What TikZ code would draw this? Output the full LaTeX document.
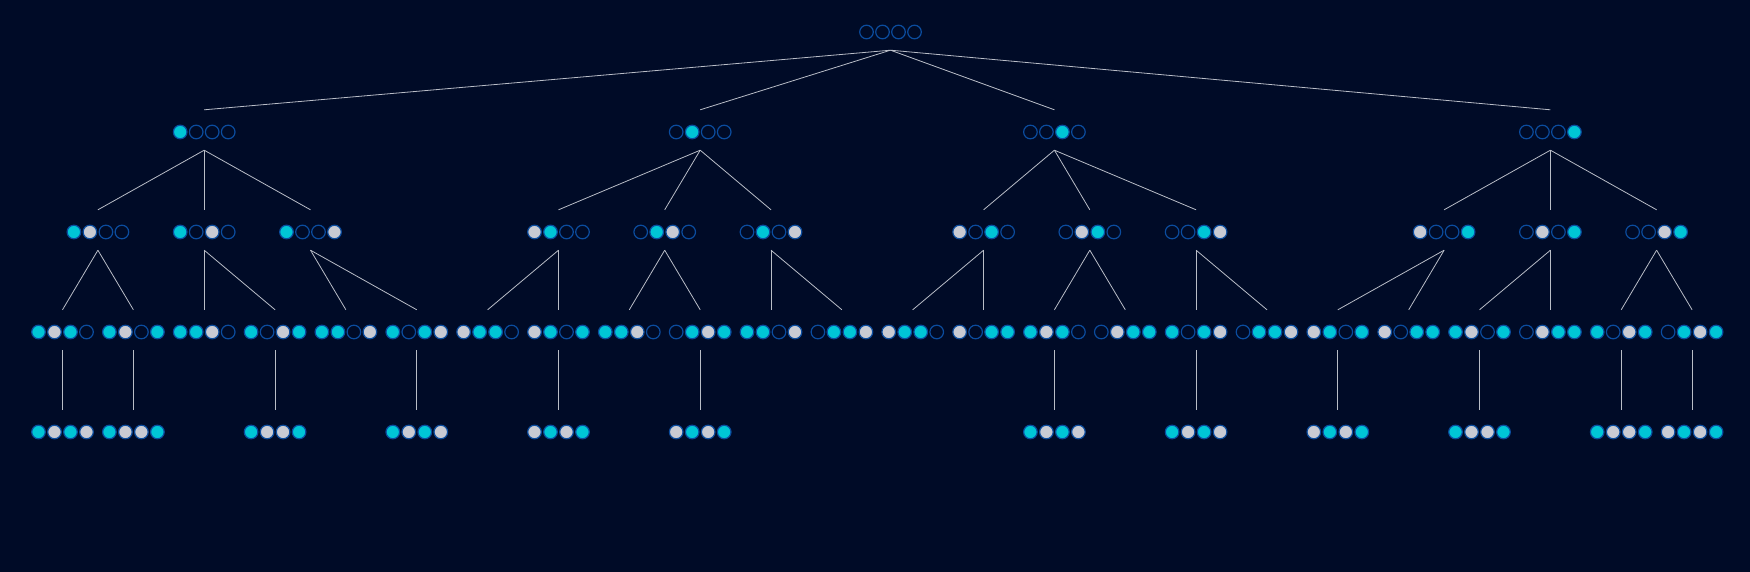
\documentclass[tikz,border=0pt]{standalone}
\definecolor{bgnavy}{HTML}{000B27}
\definecolor{dcyan}{HTML}{00C6D6}
\definecolor{dgray}{HTML}{C9CBD3}
\definecolor{ringblue}{HTML}{0B4C9E}
\definecolor{linkgray}{HTML}{B9BDC7}
\tikzset{
 grpbox/.style={rectangle,minimum width=64pt,minimum height=40pt,inner sep=0pt},
 dotbase/.style={circle,minimum size=13.6pt,inner sep=0pt,line width=1.2pt,draw=ringblue},
 dotC/.style={dotbase,fill=dcyan},
 dotG/.style={dotbase,fill=dgray},
 dotE/.style={dotbase},
 link/.style={draw=linkgray,line width=0.8pt}
}
\newcommand\grp[4]{%
 \node[grpbox] (#1) at (#2,#3-2) {};
 \foreach \c [count=\i] in {#4} {\node[dot\c] (#1-\i) at ({#2+(\i-2.5)*16},#3) {};}
}
\begin{document}
\begin{tikzpicture}[x=1pt,y=-1pt]
\fill[bgnavy] (0,0) rectangle (1750,572);
\useasboundingbox (0,0) rectangle (1750,572);
% root
\grp{r}{890.5}{32}{E,E,E,E}
% level 1
\grp{a1}{204.2}{132}{C,E,E,E}
\grp{a2}{700.2}{132}{E,C,E,E}
\grp{a3}{1054.4}{132}{E,E,C,E}
\grp{a4}{1550.4}{132}{E,E,E,C}
% level 2
\grp{b1}{97.9}{232}{C,G,E,E}
\grp{b2}{204.2}{232}{C,E,G,E}
\grp{b3}{310.5}{232}{C,E,E,G}
\grp{b4}{558.5}{232}{G,C,E,E}
\grp{b5}{664.7}{232}{E,C,G,E}
\grp{b6}{771.0}{232}{E,C,E,G}
\grp{b7}{983.6}{232}{G,E,C,E}
\grp{b8}{1089.8}{232}{E,G,C,E}
\grp{b9}{1196.1}{232}{E,E,C,G}
\grp{b10}{1444.1}{232}{G,E,E,C}
\grp{b11}{1550.4}{232}{E,G,E,C}
\grp{b12}{1656.6}{232}{E,E,G,C}
% level 3
\grp{c0}{62.5}{332}{C,G,C,E}
\grp{c1}{133.4}{332}{C,G,E,C}
\grp{c2}{204.2}{332}{C,C,G,E}
\grp{c3}{275.1}{332}{C,E,G,C}
\grp{c4}{345.9}{332}{C,C,E,G}
\grp{c5}{416.8}{332}{C,E,C,G}
\grp{c6}{487.6}{332}{G,C,C,E}
\grp{c7}{558.5}{332}{G,C,E,C}
\grp{c8}{629.3}{332}{C,C,G,E}
\grp{c9}{700.2}{332}{E,C,G,C}
\grp{c10}{771.0}{332}{C,C,E,G}
\grp{c11}{841.9}{332}{E,C,C,G}
\grp{c12}{912.7}{332}{G,C,C,E}
\grp{c13}{983.6}{332}{G,E,C,C}
\grp{c14}{1054.4}{332}{C,G,C,E}
\grp{c15}{1125.3}{332}{E,G,C,C}
\grp{c16}{1196.1}{332}{C,E,C,G}
\grp{c17}{1267.0}{332}{E,C,C,G}
\grp{c18}{1337.8}{332}{G,C,E,C}
\grp{c19}{1408.7}{332}{G,E,C,C}
\grp{c20}{1479.5}{332}{C,G,E,C}
\grp{c21}{1550.4}{332}{E,G,C,C}
\grp{c22}{1621.2}{332}{C,E,G,C}
\grp{c23}{1692.1}{332}{E,C,G,C}
% level 4
\grp{d0}{62.5}{432}{C,G,C,G}
\grp{d1}{133.4}{432}{C,G,G,C}
\grp{d3}{275.1}{432}{C,G,G,C}
\grp{d5}{416.8}{432}{C,G,C,G}
\grp{d7}{558.5}{432}{G,C,G,C}
\grp{d9}{700.2}{432}{G,C,G,C}
\grp{d14}{1054.4}{432}{C,G,C,G}
\grp{d16}{1196.1}{432}{C,G,C,G}
\grp{d18}{1337.8}{432}{G,C,G,C}
\grp{d20}{1479.5}{432}{C,G,G,C}
\grp{d22}{1621.2}{432}{C,G,G,C}
\grp{d23}{1692.1}{432}{G,C,G,C}
% connectors
\foreach \p/\q in {r/a1,r/a2,r/a3,r/a4,
 a1/b1,a1/b2,a1/b3,a2/b4,a2/b5,a2/b6,a3/b7,a3/b8,a3/b9,a4/b10,a4/b11,a4/b12,
 b1/c0,b1/c1,b2/c2,b2/c3,b3/c4,b3/c5,b4/c6,b4/c7,b5/c8,b5/c9,b6/c10,b6/c11,
 b7/c12,b7/c13,b8/c14,b8/c15,b9/c16,b9/c17,b10/c18,b10/c19,b11/c20,b11/c21,b12/c22,b12/c23,
 c0/d0,c1/d1,c3/d3,c5/d5,c7/d7,c9/d9,c14/d14,c16/d16,c18/d18,c20/d20,c22/d22,c23/d23}
 {\draw[link] (\p.south) -- (\q.north);}
\end{tikzpicture}
\end{document}
